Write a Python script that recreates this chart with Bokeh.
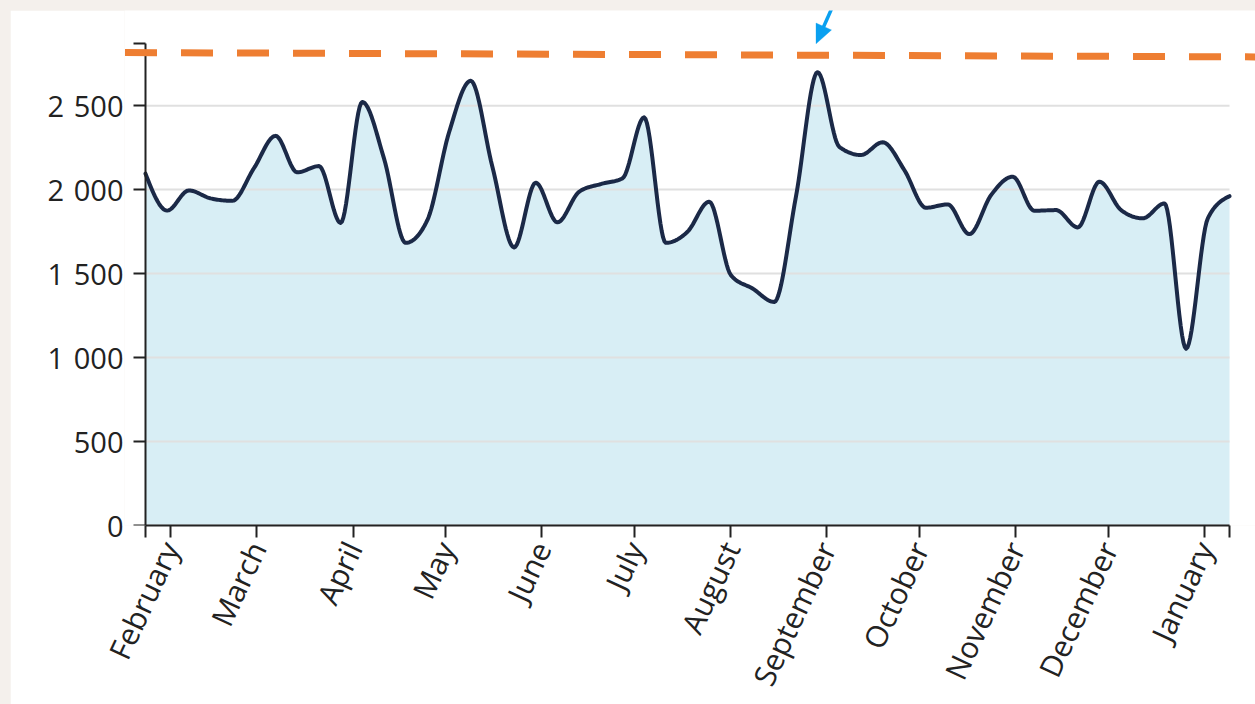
import math
import numpy as np
import pandas as pd
from bokeh.plotting import figure
from bokeh.models import (Range1d, FixedTicker, CustomJSTickFormatter, Arrow,
                          PolyAnnotation, ColumnDataSource, LinearAxis)
from bokeh.embed import file_html
from bokeh.resources import INLINE

# ---------------- data ----------------
week_start = "2021-01-24"
n_weeks = 51
values = [2095, 1875, 1995, 1948, 1933, 2127, 2320, 2103, 2140, 1802,
          2522, 2186, 1683, 1818, 2340, 2648, 2136, 1656, 2041, 1805,
          1987, 2033, 2067, 2430, 1683, 1749, 1928, 1491, 1411, 1331,
          1957, 2699, 2255, 2206, 2282, 2117, 1892, 1912, 1735, 1967,
          2077, 1874, 1878, 1775, 2047, 1878, 1829, 1918, 1053, 1829, 1961]
month_ticks = pd.date_range("2021-02-01", "2022-01-01", freq="MS")
y_ticks = [0, 500, 1000, 1500, 2000, 2500]
y_max = 2870
trend_dates = ["2021-01-17 09:07", "2022-01-20 00:00"]
trend_values = [2816, 2790]
pointer_dates = ["2021-09-05 06:00", "2021-08-28 12:00"]
pointer_values = [3190, 2868]

# ---------------- layout constants (pixels) ----------------
AXIS_W, AXIS_H = 1084, 482        # drawn extent of x axis / y axis
PAD_LEFT, PAD_RIGHT, PAD_TOP = 21, 26, 33   # frame space beyond the axes
HEAD_LEN, HEAD_HALF = 19, 8.5
BLUE = "#0aa0f0"
INK = "#222222"


def ms(d):
    return pd.Timestamp(d).value / 1e6


weeks = pd.date_range(week_start, periods=n_weeks, freq="7D")
x_data = np.array([ms(d) for d in weeks])
y_data = np.array(values, dtype=float)


def monotone_x(xs, ys, n=16):
    """d3.curveMonotoneX rendering of the data as sampled cubic Beziers."""
    m = len(xs)
    h = np.diff(xs)
    s = np.diff(ys) / h
    t = np.zeros(m)
    for i in range(1, m - 1):
        h0, h1 = h[i - 1], h[i]
        s0, s1 = s[i - 1], s[i]
        p = (s0 * h1 + s1 * h0) / (h0 + h1)
        t[i] = (np.sign(s0) + np.sign(s1)) * min(abs(s0), abs(s1), 0.5 * abs(p))
    t[0] = (3 * s[0] - t[1]) / 2
    t[-1] = (3 * s[-1] - t[-2]) / 2
    out_x, out_y = [xs[0]], [ys[0]]
    u = np.linspace(0, 1, n + 1)[1:]
    for i in range(m - 1):
        x0, x1, y0, y1 = xs[i], xs[i + 1], ys[i], ys[i + 1]
        dx = (x1 - x0) / 3
        c1 = y0 + dx * t[i]
        c2 = y1 - dx * t[i + 1]
        yy = ((1 - u) ** 3) * y0 + 3 * ((1 - u) ** 2) * u * c1 + 3 * (1 - u) * u ** 2 * c2 + u ** 3 * y1
        xx = x0 + u * (x1 - x0)
        out_x.extend(xx.tolist())
        out_y.extend(yy.tolist())
    return out_x, out_y


cx, cy = monotone_x(x_data, y_data)
src = ColumnDataSource(dict(x=cx, y=cy))

px_per_ms = AXIS_W / (x_data[-1] - x_data[0])
px_per_val = AXIS_H / y_max
x_start = x_data[0] - PAD_LEFT / px_per_ms
x_end = x_data[-1] + PAD_RIGHT / px_per_ms
y_end = y_max + PAD_TOP / px_per_val

# ---------------- figure ----------------
W, H = 1245, 694
p = figure(width=W, height=H, output_backend="svg", toolbar_location=None,
           x_range=Range1d(x_start, x_end), y_range=Range1d(0, y_end),
           min_border_left=135 - PAD_LEFT, min_border_right=0, min_border_top=0,
           min_border_bottom=H - (AXIS_H + PAD_TOP), background_fill_color="white",
           border_fill_color="white", outline_line_color=None,
           margin=(10, 0, 0, 10))

p.varea(x="x", y1=0, y2="y", source=src, fill_color="#d8eef5")
# horizontal grid lines limited to the axis extent
p.segment(x0=x_data[0], x1=x_data[-1], y0=y_ticks, y1=y_ticks,
          line_color="#e0e0e0", line_width=2)
p.line(x="x", y="y", source=src, line_color="#1b2947", line_width=4,
       line_join="round", line_cap="round")

p.xgrid.visible = False
p.ygrid.visible = False

# x axis
xt = [x_data[0]] + [ms(d) for d in month_ticks] + [x_data[-1]]
xa = p.xaxis[0]
xa.ticker = FixedTicker(ticks=xt)
xa.bounds = (x_data[0], x_data[-1])
xa.formatter = CustomJSTickFormatter(code="""
const d = new Date(tick);
if (d.getUTCDate() !== 1 || d.getUTCHours() !== 0) return '';
return d.toLocaleString('en-US', {month: 'long', timeZone: 'UTC'});
""")
xa.axis_line_color = INK
xa.axis_line_width = 2
xa.major_tick_line_color = INK
xa.major_tick_line_width = 2
xa.major_tick_out = 12
xa.major_tick_in = 0
xa.minor_tick_line_color = None
xa.major_label_text_font = "Open Sans"
xa.major_label_text_color = INK
xa.major_label_text_font_size = "30px"
xa.major_label_standoff = 6
xa.major_label_orientation = math.radians(65)

# y axis labels (left panel, no line/ticks)
ya = p.yaxis[0]
ya.ticker = FixedTicker(ticks=y_ticks)
ya.formatter = CustomJSTickFormatter(code="""
return Math.round(tick).toString().replace(/\\B(?=(\\d{3})+(?!\\d))/g, '\\u2004');
""")
ya.axis_line_color = None
ya.major_tick_line_color = None
ya.minor_tick_line_color = None
ya.major_tick_out = 0
ya.major_tick_in = 0
ya.major_label_standoff = 1
ya.major_label_text_font = "Open Sans"
ya.major_label_text_color = INK
ya.major_label_text_font_size = "29px"

# y axis line and ticks drawn at the data start
yline = LinearAxis(fixed_location=x_data[0], bounds=(0, y_max),
                   ticker=FixedTicker(ticks=y_ticks + [y_max]),
                   formatter=CustomJSTickFormatter(code="return '';"),
                   axis_line_color=INK, axis_line_width=2,
                   major_tick_line_color=INK, major_tick_line_width=2,
                   major_tick_in=12, major_tick_out=0,
                   minor_tick_line_color=None, major_label_standoff=0,
                   major_label_text_font_size="1px")
p.add_layout(yline, "right")

# dashed orange reference line
p.add_layout(Arrow(end=None, x_start=ms(trend_dates[0]), y_start=trend_values[0],
                   x_end=ms(trend_dates[1]), y_end=trend_values[1],
                   line_color="#ee7e32", line_width=7, line_dash="32 24"))

# blue pointer: shaft + filled head computed from its tip and direction
tx, ty = ms(pointer_dates[1]), pointer_values[1]
sx, sy = ms(pointer_dates[0]), pointer_values[0]
vx, vy = (sx - tx) * px_per_ms, -(sy - ty) * px_per_val   # screen vector tip->tail
L = math.hypot(vx, vy)
ux, uy = vx / L, vy / L
bx, by = HEAD_LEN * ux, HEAD_LEN * uy
nx, ny = -uy, ux
corners_px = [(0, 0), (bx + HEAD_HALF * nx, by + HEAD_HALF * ny),
              (bx - HEAD_HALF * nx, by - HEAD_HALF * ny)]
head_xs = [tx + cxp / px_per_ms for cxp, cyp in corners_px]
head_ys = [ty - cyp / px_per_val for cxp, cyp in corners_px]
p.add_layout(Arrow(end=None, x_start=sx, y_start=sy,
                   x_end=tx + (bx * 0.8) / px_per_ms, y_end=ty - (by * 0.8) / px_per_val,
                   line_color=BLUE, line_width=3.5))
p.add_layout(PolyAnnotation(xs=head_xs, ys=head_ys, fill_color=BLUE, fill_alpha=1.0,
                            line_color=BLUE, line_width=1))

html = file_html(p, INLINE)
html = html.replace(
    "</head>",
    "<style>html, body {background-color:#f4f0ec !important; margin:0 !important;"
    " overflow:hidden !important;}</style></head>", 1)
open("out.html", "w").write(html)
